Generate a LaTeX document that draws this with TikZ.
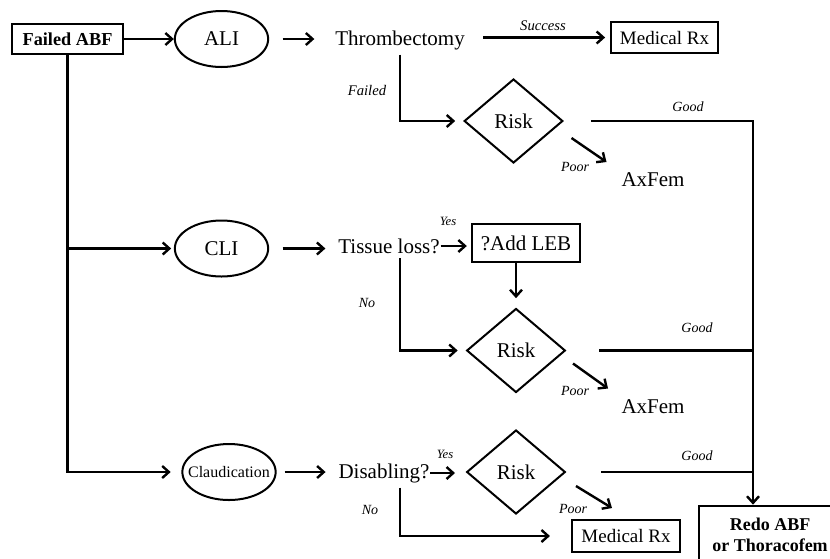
\documentclass[tikz,border=0pt]{standalone}
\usepackage{fontspec}
\setmainfont{Liberation Serif}
\usetikzlibrary{shapes.geometric,arrows.meta,calc}

\tikzset{every picture/.style={line width=0.75pt}}
\tikzset{
  conn/.style={line width=1.8pt},
  arr/.style={conn,-{Straight Barb[length=5pt,width=9pt]}},
  box/.style={draw,line width=1.1pt,inner sep=0pt},
  oval/.style={draw,ellipse,line width=1.5pt,minimum width=70pt,minimum height=42pt,inner sep=0pt},
  riskbox/.style={draw,diamond,line width=1.5pt,minimum width=74pt,minimum height=63pt,inner sep=0pt,font=\fontsize{15.75}{18}\selectfont},
  txt/.style={font=\fontsize{15.75}{18}\selectfont},
  lbl/.style={font=\itshape\fontsize{10.5}{12}\selectfont},
}

\begin{document}
\begin{tikzpicture}[x=0.75pt,y=0.75pt,yscale=-1,xscale=1]
%set diagram left start at 0, and has height of 558
\useasboundingbox (0,0) rectangle (830,558);

%Shape: Rectangle [Failed ABF]
\node[box,minimum width=83pt,minimum height=22.5pt,font=\bfseries\fontsize{13.7}{16}\selectfont] (fail) at (67.5,39) {Failed ABF};
%Shape: Ellipse [ALI, CLI, Claudication]
\node[oval,txt] (ali) at (221.5,39) {ALI};
\node[oval,txt] (cli) at (221.5,248.5) {CLI};
\node[oval,label={[font=\fontsize{12}{14}\selectfont]center:Claudication}] (claud) at (229,472) {};

% Text Node
\node[txt] (thromb) at (400,40) {Thrombectomy};
% Text Node
\node[txt] (tissue) at (389,246) {Tissue loss?};
% Text Node
\node[txt] (disab) at (384,473) {Disabling?};
% Text Node
\node[txt] (axfem1) at (653,180) {AxFem};
% Text Node
\node[txt] (axfem2) at (653,407) {AxFem};

%Shape: Rectangle [Medical Rx]
\node[box,minimum width=80pt,minimum height=23pt,font=\fontsize{14.25}{16}\selectfont] (med1) at (664.5,37.5) {Medical Rx};
\node[box,minimum width=81pt,minimum height=24pt,font=\fontsize{14.25}{16}\selectfont] (med2) at (626,536) {Medical Rx};
%Shape: Rectangle [?Add LEB]
\node[box,line width=1.8pt,minimum width=81pt,minimum height=28.5pt,txt] (addleb) at (526,243) {?Add LEB};
%Shape: Rectangle [Redo]
\node[box,line width=1.5pt,minimum width=106.5pt,minimum height=44pt,align=center,font=\bfseries\fontsize{13.5}{15.75}\selectfont] (redo) at (770,535) {Redo ABF\\or Thoracofem};

%Shape: Diamond [Risk]
\node[riskbox] (risk1) at (513.5,121) {Risk};
\node[riskbox] (risk2) at (516,350.5) {Risk};
\node[riskbox] (risk3) at (516,472) {Risk};

\coordinate (jn) at (753,0);

% left trunk
\draw[arr] (fail.east) -- (fail.east -| ali.west);
\draw[arr,shorten >=2pt] (fail.south |- cli) -- (cli.west);
\draw[arr,shorten >=8pt] (fail.south) |- (claud.west);

% row ALI
\draw[arr,shorten <=10pt,shorten >=12pt] (ali.east) -- (ali.east -| thromb.west);
\draw[arr,shorten <=10pt,shorten >=4pt] (thromb.east |- med1) -- (med1.west);
\draw[arr,shorten >=6pt] (thromb.south) |- (risk1.west);
\draw[arr] ($(risk1.east)+(27,0)$) -- (jn |- risk1.east) -- (jn |- redo.north);
\draw[arr] ($(risk1)+(58,17)$) -- ($(risk1)+(93,41)$);

% row CLI
\draw[arr,shorten <=10pt,shorten >=6pt] (cli.east) -- (cli.east -| tissue.west);
\draw[arr,shorten <=-3pt,shorten >=3pt] (tissue.east) -- (tissue.east -| addleb.west);
\draw[arr,shorten >=7pt] (addleb.south -| risk2) -- (risk2.north);
\draw[arr,shorten >=6pt] (tissue.south -| thromb.south) |- (risk2.west);
\draw[conn] ($(risk2.east)+(33,0)$) -- (jn |- risk2.east);
\draw[arr] ($(risk2)+(57,13)$) -- ($(risk2)+(92,38)$);

% row Claudication
\draw[arr,shorten <=6pt,shorten >=6pt] (claud.east) -- (claud.east -| disab.west);
\draw[arr,shorten <=-3pt,shorten >=8pt] (disab.east) -- (disab.east -| risk3.west);
\draw[arr,shorten >=16pt] (disab.south -| thromb.south) |- (med2.west);
\draw[conn] ($(risk3.east)+(35,0)$) -- (jn |- risk3.east);
\draw[arr] ($(risk3)+(60,14)$) -- ($(risk3)+(96,36)$);

% Text Node [labels]
\node[lbl,font=\itshape\fontsize{11}{12}\selectfont] (lSucc) at (543,26) {Success};
\node[lbl,font=\itshape\fontsize{11}{12}\selectfont] (lFail) at (367,90) {Failed};
\node[lbl] (lGood1) at (688,107) {Good};
\node[lbl] (lPoor1) at (575,167) {Poor};
\node[lbl,font=\itshape\fontsize{9.5}{11}\selectfont] (lYes1) at (448,221) {Yes};
\node[lbl] (lNo1) at (367,303) {No};
\node[lbl] (lGood2) at (697,328) {Good};
\node[lbl] (lPoor2) at (575,391) {Poor};
\node[lbl,font=\itshape\fontsize{9.5}{11}\selectfont] (lYes2) at (445,454) {Yes};
\node[lbl] (lGood3) at (697,456) {Good};
\node[lbl] (lNo2) at (370,510) {No};
\node[lbl] (lPoor3) at (573,509) {Poor};

\end{tikzpicture}
\end{document}
